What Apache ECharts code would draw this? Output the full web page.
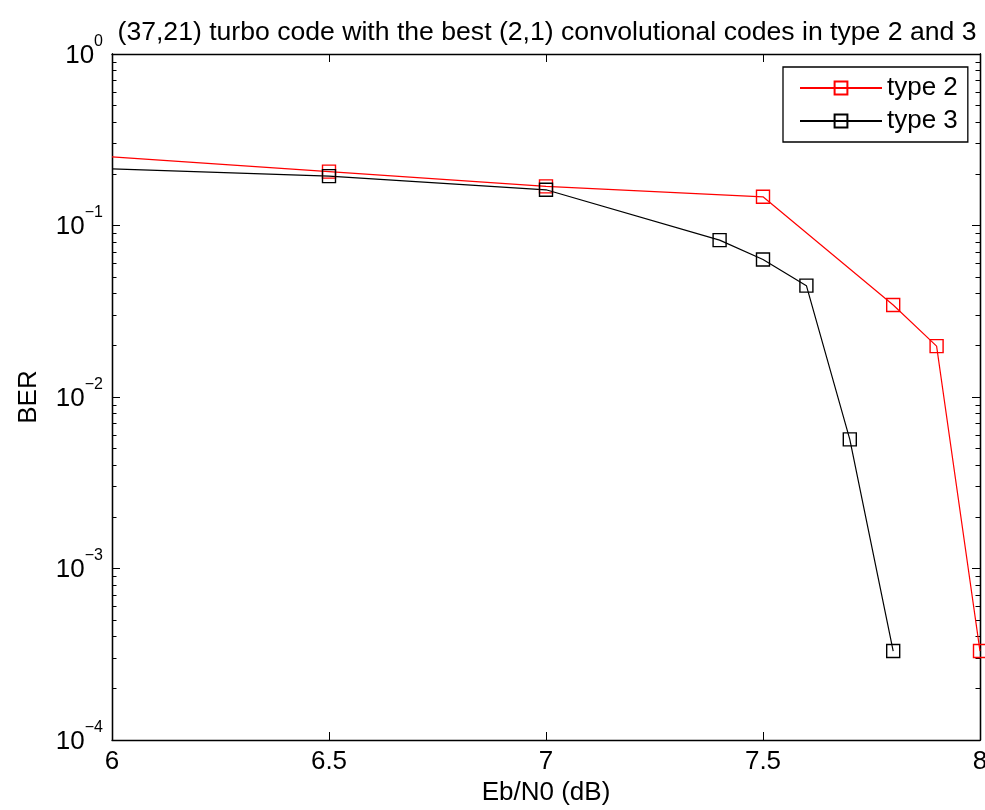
<!DOCTYPE html>
<html>
<head>
<meta charset="utf-8">
<script src="https://cdn.jsdelivr.net/npm/echarts@6/dist/echarts.min.js"></script>
<style>
html,body{margin:0;padding:0;background:#fff;overflow:hidden;}
#chart{width:985px;height:810px;}
</style>
</head>
<body>
<div id="chart"></div>
<script>
// ---- data ----
const xType2 = [6, 6.5, 7, 7.5, 7.8, 7.9, 8];
const berType2 = [0.251, 0.206, 0.169, 0.147, 0.0344, 0.0198, 3.3e-4];
const xType3 = [6, 6.5, 7, 7.4, 7.5, 7.6, 7.7, 7.8];
const berType3 = [0.214, 0.194, 0.1615, 0.0822, 0.0634, 0.0446, 0.00566, 3.3e-4];
const xTicks = [6, 6.5, 7, 7.5, 8];
const yDecades = [1e-4, 1e-3, 1e-2, 1e-1, 1];
const yMinorTicks = [];
for (let e = -4; e < 0; e++) { for (let m = 2; m <= 9; m++) yMinorTicks.push(m * Math.pow(10, e)); }
const seriesNames = ['type 2', 'type 3'];
const titleText = '(37,21) turbo code with the best (2,1) convolutional codes in type 2 and 3';

const FONT = '"Liberation Sans", Arial, Helvetica, sans-serif';
const FS = 26;

function toPairs(xs, ys) {
  return xs.map((x, i) => {
    const item = { value: [x, ys[i]] };
    if (i === 0) item.symbol = 'none'; // line enters from left edge without a marker
    return item;
  });
}

function expLabel(v) {
  const e = Math.round(Math.log10(v));
  return '{b|10}{s|' + (e < 0 ? '\u2212' + (-e) : String(e)) + '}';
}

const yBase = {
  type: 'log', logBase: 10, min: 1e-4, max: 1,
  splitLine: { show: false },
  axisLine: { show: true, onZero: false, lineStyle: { color: '#000', width: 1.3 } }
};

const chart = echarts.init(document.getElementById('chart'));
chart.setOption({
  backgroundColor: '#fff',
  animation: false,
  title: {
    text: titleText, left: 542, top: 14, textAlign: 'center',
    textStyle: { fontFamily: FONT, fontSize: 26.6, fontWeight: 'normal', color: '#000' }
  },
  legend: {
    orient: 'vertical', left: 783, top: 67,
    data: seriesNames,
    backgroundColor: '#fff', borderColor: '#000', borderWidth: 1.3, borderRadius: 0,
    padding: [8, 10, 8, 16], itemGap: 7,
    itemWidth: 82, itemHeight: 16,
    textStyle: { fontFamily: FONT, fontSize: FS, color: '#000' }
  },
  grid: { left: 112, right: 5, top: 54, bottom: 70, containLabel: false, outerBoundsMode: 'none' },
  xAxis: [{
    type: 'value', min: 6, max: 8, interval: 0.5, position: 'bottom',
    name: 'Eb/N0 (dB)', nameLocation: 'middle', nameGap: 40,
    nameTextStyle: { fontFamily: FONT, fontSize: FS, color: '#000' },
    splitLine: { show: false },
    axisLine: { onZero: false, lineStyle: { color: '#000', width: 1.3 } },
    axisTick: { inside: true, length: 8, lineStyle: { color: '#000' } },
    axisLabel: { margin: 9, fontFamily: FONT, fontSize: FS, color: '#000',
      formatter: v => String(v), customValues: xTicks, hideOverlap: false }
  }, {
    type: 'value', min: 6, max: 8, interval: 0.5, position: 'top',
    splitLine: { show: false },
    axisLine: { onZero: false, lineStyle: { color: '#000', width: 1.3 } },
    axisTick: { inside: true, length: 8, lineStyle: { color: '#000' } },
    axisLabel: { show: false }
  }],
  yAxis: [
    Object.assign({}, yBase, {
      position: 'left',
      name: 'BER', nameLocation: 'middle', nameGap: 70, nameRotate: 90,
      nameTextStyle: { fontFamily: FONT, fontSize: FS, color: '#000' },
      axisTick: { inside: true, length: 8, lineStyle: { color: '#000' }, customValues: yDecades },
      axisLabel: {
        margin: 9, customValues: yDecades, hideOverlap: false,
        padding: [0, 0, 6, 0],
        formatter: expLabel,
        rich: {
          b: { fontFamily: FONT, fontSize: FS, color: '#000', verticalAlign: 'bottom', padding: [9, 0, 0, 0] },
          s: { fontFamily: FONT, fontSize: 16, color: '#000', verticalAlign: 'top' }
        }
      }
    }),
    Object.assign({}, yBase, {
      position: 'left',
      axisTick: { inside: true, length: 4.5, lineStyle: { color: '#000' }, customValues: yMinorTicks },
      axisLabel: { show: false }
    }),
    Object.assign({}, yBase, {
      position: 'right',
      axisTick: { inside: true, length: 8, lineStyle: { color: '#000' }, customValues: yDecades },
      axisLabel: { show: false }
    }),
    Object.assign({}, yBase, {
      position: 'right',
      axisTick: { inside: true, length: 4.5, lineStyle: { color: '#000' }, customValues: yMinorTicks },
      axisLabel: { show: false }
    })
  ],
  series: [{
    name: seriesNames[0], type: 'line', xAxisIndex: 0, yAxisIndex: 0,
    data: toPairs(xType2, berType2),
    symbol: 'rect', symbolSize: 13, showAllSymbol: true,
    lineStyle: { color: '#ff0000', width: 1.2 },
    itemStyle: { color: 'rgba(255,255,255,0)', borderColor: '#ff0000', borderWidth: 1.4 },
    emphasis: { disabled: true }
  }, {
    name: seriesNames[1], type: 'line', xAxisIndex: 0, yAxisIndex: 0,
    data: toPairs(xType3, berType3),
    symbol: 'rect', symbolSize: 13, showAllSymbol: true,
    lineStyle: { color: '#000000', width: 1.2 },
    itemStyle: { color: 'rgba(255,255,255,0)', borderColor: '#000000', borderWidth: 1.4 },
    emphasis: { disabled: true }
  }]
});
</script>
</body>
</html>
